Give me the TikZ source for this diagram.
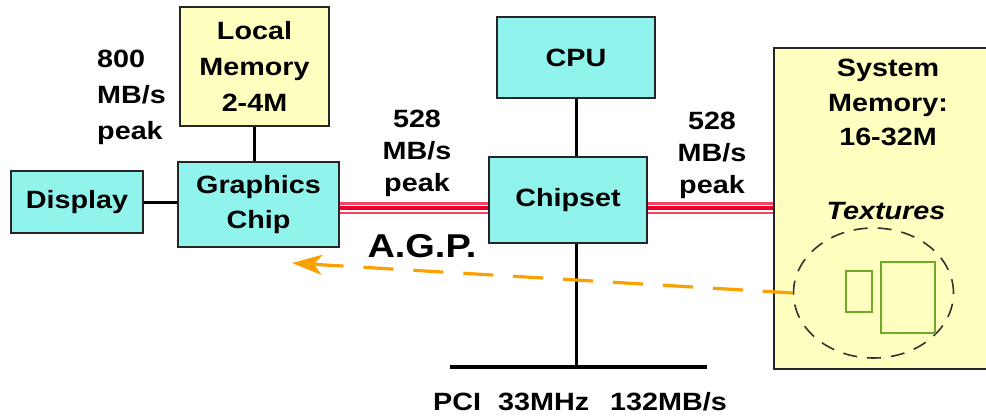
\documentclass[tikz,border=0pt]{standalone}
\usepackage{fontspec}
\setmainfont[FakeStretch=1.15]{Liberation Sans}
\usetikzlibrary{arrows.meta,calc,shapes.geometric}
\definecolor{boxcyan}{RGB}{144,244,236}
\definecolor{boxyellow}{RGB}{255,255,192}
\definecolor{pinkred}{RGB}{240,70,100}
\definecolor{agpred}{RGB}{232,0,40}
\definecolor{arrorange}{RGB}{250,160,0}
\definecolor{texgreen}{RGB}{110,170,40}
\tikzset{
  cbox/.style={draw=black!85, line width=1.8pt, fill=boxcyan, font=\bfseries\fontsize{25}{35}\selectfont, align=center, inner sep=0pt},
  ybox/.style={draw=black!85, line width=1.8pt, fill=boxyellow, font=\bfseries\fontsize{25}{36}\selectfont, align=center, inner sep=0pt},
  lbl/.style={font=\bfseries\fontsize{25}{32}\selectfont, inner sep=0pt},
  wire/.style={line width=3pt, black},
  busouter/.style={line width=12pt, pinkred},
  busmid/.style={line width=7pt, white},
  businner/.style={line width=3.2pt, agpred},
  dataflow/.style={line width=3.2pt, arrorange, dash pattern=on 30pt off 20pt, -{Stealth[length=30pt,width=20pt,inset=8pt]}},
  texbox/.style={draw=texgreen, line width=2pt, inner sep=0pt}
}
\begin{document}
\begin{tikzpicture}[x=1pt,y=-1pt]
\useasboundingbox (0,0) rectangle (986,418);
% boxes
\node[ybox, minimum width=149pt, minimum height=119pt] (lm) at (254.5,66.5) {Local\\Memory\\2-4M};
\node[cbox, minimum width=161pt, minimum height=85pt] (gc) at (258.5,204.5) {Graphics\\Chip};
\node[cbox, minimum width=132pt, minimum height=62pt] (disp) at (77,202) {Display};
\node[cbox, minimum width=158pt, minimum height=81pt] (cpu) at (576,57.5) {CPU};
\node[cbox, minimum width=158pt, minimum height=86pt] (cs) at (568,200) {Chipset};
\node[ybox, minimum width=217pt, minimum height=321pt, anchor=north west] (sm) at (773,47) {};
\node[font=\bfseries\fontsize{25}{34.5}\selectfont, align=center, anchor=north, inner sep=0pt] (smt) at (888,59) {System\\Memory:\\16-32M};
\node[font=\bfseries\itshape\fontsize{25}{30}\selectfont, inner sep=0pt] (tx) at (886,211) {Textures};
\node[ellipse, draw=black!80, line width=1.6pt, dash pattern=on 14pt off 10pt, minimum width=160pt, minimum height=130pt, inner sep=0pt] (tex) at (873.5,293) {};
\node[texbox, minimum width=26pt, minimum height=41pt] (t1) at (859,291.5) {};
\node[texbox, minimum width=54pt, minimum height=71pt] (t2) at (908,297.5) {};
% labels
\node[lbl, align=left, anchor=north west, font=\bfseries\fontsize{25}{36}\selectfont] (l800) at (97,50) {800\\MB/s\\peak};
\node[lbl, align=center, anchor=north] (l528a) at (417,110) {528\\MB/s\\peak};
\node[lbl, align=center, anchor=north] (l528b) at (712,112) {528\\MB/s\\peak};
\node[font=\bfseries\fontsize{33}{36}\selectfont, inner sep=0pt] (agp) at (422,246) {A.G.P.};
\node[font=\bfseries\fontsize{25}{30}\selectfont, inner sep=0pt, anchor=west] (pcit) at (433,402) {PCI\hspace{17pt}33MHz\hspace{21pt}132MB/s};
% coordinates
\coordinate (busy) at (0,208);
\coordinate (pcil) at (450,367);
\coordinate (pcir) at (707,367);
\coordinate (gctip) at (292,263);
% connectors
\draw[wire] (lm.south) -- (lm.south |- gc.north);
\draw[wire] (disp.east) -- (disp.east -| gc.west);
\draw[wire] (cpu.south) -- (cpu.south |- cs.north);
\draw[wire] (cs.south -| cpu.south) -- (cpu.south |- pcil);
\draw[line width=4.5pt, black] (pcil) -- (pcir);
\foreach \s in {busouter,busmid,businner}{
  \draw[\s] (gc.east |- busy) -- (cs.west |- busy);
  \draw[\s] (cs.east |- busy) -- (sm.west |- busy);
}
\draw[dataflow] (tex.west) -- (gctip);
\end{tikzpicture}
\end{document}
